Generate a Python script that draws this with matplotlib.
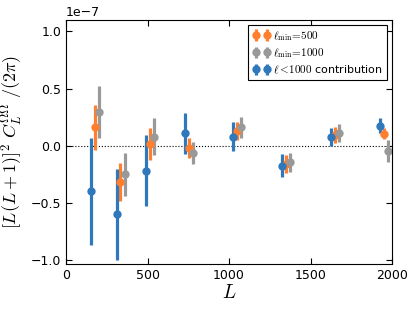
import numpy as np
import matplotlib
matplotlib.use("Agg")
import matplotlib.pyplot as plt
from matplotlib import rcParams
rcParams["mathtext.fontset"] = "cm"
rcParams["font.size"] = 9

# values in units of 1e-7
L_blue = [151, 310, 489, 728, 1025, 1327, 1625, 1923]
y_blue = [-0.40, -0.60, -0.22, 0.108, 0.08, -0.175, 0.076, 0.175]
e_blue = [0.47, 0.40, 0.31, 0.18, 0.125, 0.10, 0.08, 0.065]

L_orange = [175, 334, 514, 752, 1050, 1352, 1650, 1949]
y_orange = [0.16, -0.32, 0.018, -0.02, 0.13, -0.16, 0.096, 0.105]
e_orange = [0.20, 0.165, 0.14, 0.09, 0.08, 0.08, 0.07, 0.05]

L_gray = [202, 361, 542, 779, 1076, 1376, 1676, 1974]
y_gray = [0.296, -0.25, 0.08, -0.064, 0.16, -0.146, 0.11, -0.05]
e_gray = [0.23, 0.19, 0.16, 0.10, 0.09, 0.08, 0.08, 0.096]

scale = 1e-7

fig = plt.figure(figsize=(4.15, 3.12), dpi=100)
ax = fig.add_axes([0.159, 0.154, 0.786, 0.782])

ax.axhline(0, color="black", linestyle=":", linewidth=0.8)

kw = dict(fmt="o", markersize=6, elinewidth=2.3, capsize=0, markeredgewidth=0)
ax.errorbar(L_orange, np.array(y_orange) * scale, yerr=np.array(e_orange) * scale,
            color="#ff7f2e", label=r"$\ell_{\rm min}\!=\!500$", **kw)
ax.errorbar(L_gray, np.array(y_gray) * scale, yerr=np.array(e_gray) * scale,
            color="#999999", label=r"$\ell_{\rm min}\!=\!1000$", **kw)
ax.errorbar(L_blue, np.array(y_blue) * scale, yerr=np.array(e_blue) * scale,
            color="#2f78bb", label=r"$\ell<\!1000$ contribution", **kw)

ax.set_xlim(0, 2000)
ax.set_ylim(-1.035 * scale, 1.1 * scale)
ax.set_xticks([0, 500, 1000, 1500, 2000])
ax.set_yticks(np.array([-1.0, -0.5, 0.0, 0.5, 1.0]) * scale)
ax.tick_params(direction="in", top=True, right=True, length=4, labelsize=9)

ax.set_xlabel(r"$L$", fontsize=14, labelpad=1)
ax.set_ylabel(r"$[L(L+1)]^2\ C_L^{\Omega\Omega}\ /(2\pi)$", fontsize=13)

leg = ax.legend(loc="upper right", numpoints=2, fontsize=8, fancybox=False,
                framealpha=1, edgecolor="black", handletextpad=0.3,
                handlelength=1.6, borderaxespad=0.45, labelspacing=0.3,
                borderpad=0.35)
leg.get_frame().set_linewidth(0.8)

fig.savefig("out.png", dpi=100)
